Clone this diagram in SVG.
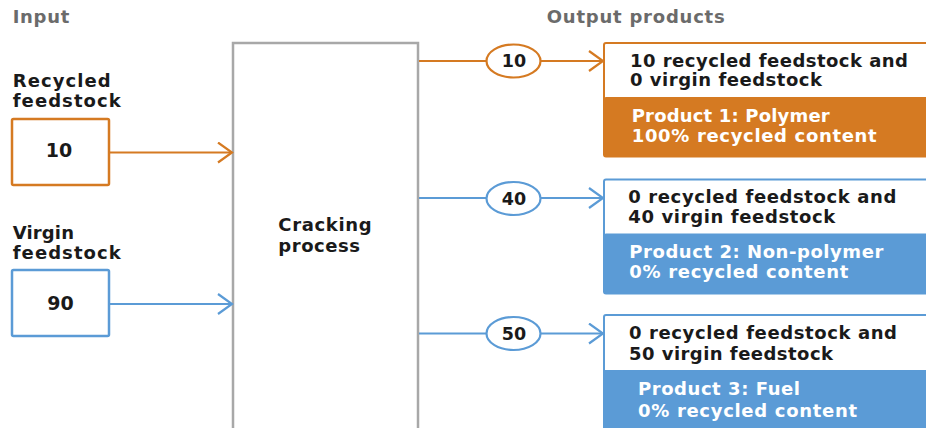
<svg xmlns="http://www.w3.org/2000/svg" width="926" height="428" viewBox="0 0 926 428">
<style>
text{font-family:"DejaVu Sans","Liberation Sans",sans-serif;font-weight:bold;font-size:18px;fill:#1a1a1a}
.hdr{fill:#6b6b6b;font-size:18px}
.wt{fill:#ffffff}
.num{font-size:19px;text-anchor:middle}
.enum{font-size:17.5px;text-anchor:middle}
.ln{fill:none;stroke-width:2}
.o{stroke:#d57a22}
.b{stroke:#5b9bd6}
.fo{fill:#d57a22}
.fb{fill:#5b9bd6}
</style>
<defs>
<marker id="ao" markerUnits="userSpaceOnUse" markerWidth="20" markerHeight="24" refX="16" refY="11" orient="auto" viewBox="0 0 20 24"><path d="M2,1 L16,11 L2,21" fill="none" stroke="#d57a22" stroke-width="2.2"/></marker>
<marker id="ab" markerUnits="userSpaceOnUse" markerWidth="20" markerHeight="24" refX="16" refY="11" orient="auto" viewBox="0 0 20 24"><path d="M2,1 L16,11 L2,21" fill="none" stroke="#5b9bd6" stroke-width="2.2"/></marker>
</defs>

<g id="headers">
<text class="hdr" x="12.7" y="22.7" textLength="56.6">Input</text>
<text class="hdr" x="546.7" y="22.7" textLength="178">Output products</text>
</g>

<g id="cracking">
<rect x="233" y="43" width="185" height="420" fill="#ffffff" stroke="#a8a8a8" stroke-width="2.5"/>
<text x="278.3" y="230.5" textLength="93.4">Cracking</text>
<text x="278.3" y="251.5" textLength="81.7">process</text>
</g>

<g id="recycled">
<text x="12.7" y="87.3" textLength="98">Recycled</text>
<text x="12.7" y="107.3" textLength="108">feedstock</text>
<rect x="12" y="119" width="97" height="66" rx="1.5" fill="#ffffff" stroke="#d57a22" stroke-width="2.5"/>
<text class="num" x="59" y="157">10</text>
</g>

<g id="virgin">
<text x="12.7" y="239.3" textLength="61.3">Virgin</text>
<text x="12.7" y="259.3" textLength="108">feedstock</text>
<rect x="12" y="270" width="97" height="66" rx="1.5" fill="#ffffff" stroke="#5b9bd6" stroke-width="2.5"/>
<text class="num" x="60.5" y="309.5">90</text>
</g>

<g id="connectors">
<line class="ln o" x1="109" y1="152.5" x2="232" y2="152.5" marker-end="url(#ao)"/>
<line class="ln b" x1="109" y1="304" x2="232" y2="304" marker-end="url(#ab)"/>
<line class="ln o" x1="419" y1="61" x2="487" y2="61"/>
<line class="ln o" x1="540" y1="61" x2="603" y2="61" marker-end="url(#ao)"/>
<line class="ln b" x1="419" y1="198" x2="487" y2="198"/>
<line class="ln b" x1="540" y1="198" x2="603" y2="198" marker-end="url(#ab)"/>
<line class="ln b" x1="419" y1="333.5" x2="487" y2="333.5"/>
<line class="ln b" x1="540" y1="333.5" x2="603" y2="333.5" marker-end="url(#ab)"/>
</g>

<g id="flow10">
<ellipse cx="513.5" cy="61" rx="27" ry="16.5" fill="#ffffff" stroke="#d57a22" stroke-width="2.2"/>
<text class="enum" x="514" y="67">10</text>
</g>
<g id="flow40">
<ellipse cx="513.5" cy="198.5" rx="27" ry="16.5" fill="#ffffff" stroke="#5b9bd6" stroke-width="2.2"/>
<text class="enum" x="514" y="204.5">40</text>
</g>
<g id="flow50">
<ellipse cx="513.5" cy="333.5" rx="27" ry="16.5" fill="#ffffff" stroke="#5b9bd6" stroke-width="2.2"/>
<text class="enum" x="514" y="339.5">50</text>
</g>

<g id="product1">
<rect x="604" y="43" width="340" height="113.5" rx="2" fill="#ffffff" stroke="#d57a22" stroke-width="2"/>
<rect x="604" y="97" width="340" height="60" rx="2" class="fo"/>
<text x="630" y="66.7" textLength="278">10 recycled feedstock and</text>
<text x="630" y="86" textLength="192">0 virgin feedstock</text>
<text class="wt" x="631.7" y="122.3" textLength="198">Product 1: Polymer</text>
<text class="wt" x="631.7" y="141.7" textLength="245">100% recycled content</text>
</g>

<g id="product2">
<rect x="604" y="179.5" width="340" height="114" rx="2" fill="#ffffff" stroke="#5b9bd6" stroke-width="2"/>
<rect x="604" y="233.5" width="340" height="60.5" rx="2" class="fb"/>
<text x="628.3" y="203.3" textLength="268">0 recycled feedstock and</text>
<text x="628.3" y="223.3" textLength="207">40 virgin feedstock</text>
<text class="wt" x="629.3" y="258.3" textLength="254">Product 2: Non-polymer</text>
<text class="wt" x="629.3" y="278.3" textLength="219">0% recycled content</text>
</g>

<g id="product3">
<rect x="604" y="315" width="340" height="130" rx="2" fill="#ffffff" stroke="#5b9bd6" stroke-width="2"/>
<rect x="604" y="370" width="340" height="75" class="fb"/>
<text x="629" y="339.3" textLength="268">0 recycled feedstock and</text>
<text x="629" y="360" textLength="204">50 virgin feedstock</text>
<text class="wt" x="638" y="395" textLength="162">Product 3: Fuel</text>
<text class="wt" x="638" y="416.7" textLength="219">0% recycled content</text>
</g>
</svg>
